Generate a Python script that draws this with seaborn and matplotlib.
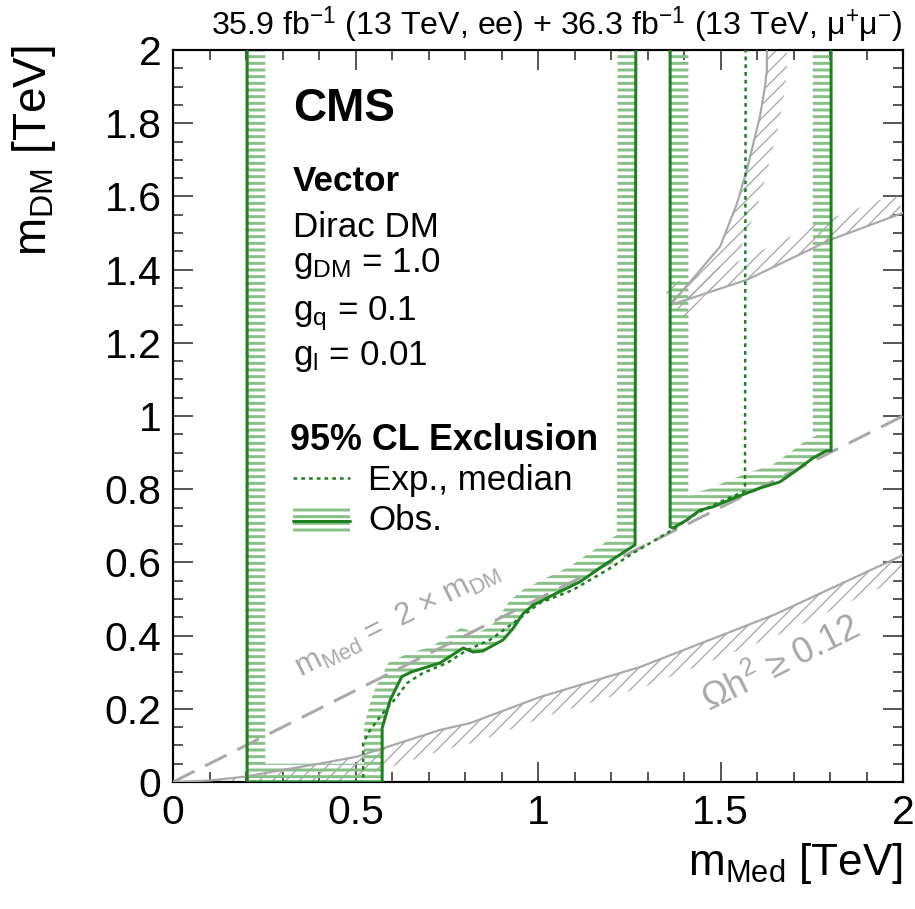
import numpy as np
import matplotlib
matplotlib.use("Agg")
import matplotlib.pyplot as plt
from matplotlib.ticker import MultipleLocator
import seaborn as sns

# ---------------- data (TeV) ----------------
obs1_x = [0.203, 0.203, 0.573, 0.573, 0.595, 0.627, 0.654, 0.731, 0.795, 0.822, 0.849,
          0.904, 0.932, 0.959, 0.986, 1.041, 1.115, 1.189, 1.266, 1.268]
obs1_y = [2.0, 0.0, 0.0, 0.147, 0.224, 0.288, 0.301, 0.325, 0.366, 0.355, 0.358,
          0.388, 0.42, 0.46, 0.483, 0.511, 0.547, 0.598, 0.648, 2.0]

obs2_x = [1.362, 1.362, 1.37, 1.408, 1.444, 1.48, 1.545, 1.608, 1.663, 1.709, 1.753,
          1.79, 1.803, 1.803]
obs2_y = [2.0, 0.697, 0.694, 0.716, 0.743, 0.752, 0.779, 0.803, 0.82, 0.852, 0.885,
          0.905, 0.905, 2.0]

exp_x = [0.203, 0.203, 0.521, 0.521, 0.54, 0.575, 0.613, 0.641, 0.685, 0.75, 0.805,
         0.868, 0.932, 1.005, 1.096, 1.189, 1.26, 1.37, 1.436, 1.499, 1.567, 1.569]
exp_y = [2.0, 0.0, 0.0, 0.107, 0.142, 0.188, 0.232, 0.27, 0.298, 0.325, 0.36,
         0.388, 0.434, 0.489, 0.525, 0.579, 0.625, 0.69, 0.735, 0.765, 0.795, 2.0]

relic_low_x = [0.0, 0.1, 0.2, 0.3, 0.4, 0.503, 0.6, 0.731, 0.814, 1.005, 1.279, 1.645, 2.0]
relic_low_y = [0.0, 0.004, 0.015, 0.033, 0.05, 0.069, 0.1, 0.142, 0.161, 0.232, 0.314, 0.456, 0.62]

relic_up_x = [1.362, 1.42, 1.499, 1.545, 1.572, 1.608, 1.622, 1.627, 1.627]
relic_up_y = [1.303, 1.37, 1.463, 1.58, 1.672, 1.818, 1.9, 1.945, 2.05]

relic_right_x = [1.362, 1.572, 1.80, 2.0]
relic_right_y = [1.303, 1.372, 1.481, 1.555]

diag_x = [0.0, 2.0]
diag_y = [0.0, 1.0]

xticks = [0, 0.5, 1, 1.5, 2]
xtick_labels = ["0", "0.5", "1", "1.5", "2"]
yticks = [0, 0.2, 0.4, 0.6, 0.8, 1.0, 1.2, 1.4, 1.6, 1.8, 2.0]
ytick_labels = ["0", "0.2", "0.4", "0.6", "0.8", "1", "1.2", "1.4", "1.6", "1.8", "2"]

# ---------------- style ----------------
sns.set_theme(style="ticks")
plt.rcParams["font.family"] = ["Liberation Sans", "DejaVu Sans"]
plt.rcParams["mathtext.fontset"] = "custom"
plt.rcParams["mathtext.rm"] = "Liberation Sans"
plt.rcParams["mathtext.it"] = "Liberation Sans:italic"
plt.rcParams["mathtext.bf"] = "Liberation Sans:bold"
plt.rcParams["text.color"] = "black"
plt.rcParams["xtick.color"] = "black"
plt.rcParams["ytick.color"] = "black"
plt.rcParams["xtick.labelcolor"] = "black"
plt.rcParams["ytick.labelcolor"] = "black"
plt.rcParams["hatch.linewidth"] = 1.8

DARK = "#1f801f"
LIGHT = "#86c086"
GREY = "#a8a8a8"

DPI = 120
fig = plt.figure(figsize=(915 / DPI, 909 / DPI), dpi=DPI)
ax = fig.add_axes([173 / 915, 1 - 782 / 909, 730 / 915, 732 / 909])
ax.set_xlim(0, 2)
ax.set_ylim(0, 2)


def band(xs, ys, w, side):
    p = np.column_stack([xs, ys]).astype(float)
    n = len(p)
    seg = np.diff(p, axis=0)
    seg /= np.linalg.norm(seg, axis=1)[:, None]
    nrm = side * np.column_stack([-seg[:, 1], seg[:, 0]])
    off = np.zeros_like(p)
    for i in range(n):
        if i == 0:
            v = nrm[0]; s = 1.0
        elif i == n - 1:
            v = nrm[-1]; s = 1.0
        else:
            v = nrm[i - 1] + nrm[i]
            v /= np.linalg.norm(v)
            s = min(1.0 / max(np.dot(v, nrm[i]), 1e-3), 2.5)
        off[i] = p[i] + v * w * s
    return np.vstack([p, off[::-1]])


def hatch_poly(poly, color, hatch, hlw):
    patch = ax.fill(poly[:, 0], poly[:, 1], fill=False, edgecolor=color,
                    linewidth=0, hatch=hatch, zorder=2)[0]
    try:
        patch.set_hatch_linewidth(hlw)
    except Exception:
        pass
    return patch


# grey relic density regions
plt.rcParams["hatch.linewidth"] = 0.8
hatch_poly(band(relic_low_x, relic_low_y, 0.055, -1), GREY, "///", 0.8)
hatch_poly(band(relic_up_x, relic_up_y, 0.055, -1), GREY, "///", 0.8)
hatch_poly(band(relic_right_x, relic_right_y, 0.055, 1), GREY, "///", 0.8)
for xs, ys in [(relic_low_x, relic_low_y), (relic_up_x, relic_up_y),
               (relic_right_x, relic_right_y)]:
    sns.lineplot(x=xs, y=ys, sort=False, estimator=None, color=GREY, lw=1.3,
                 ax=ax, legend=False, zorder=3)

# diagonal
sns.lineplot(x=diag_x, y=diag_y, sort=False, estimator=None, color=GREY, lw=1.8,
             dashes=False, ax=ax, legend=False, zorder=3).lines[-1].set_dashes((8, 4))

# observed hatched bands
plt.rcParams["hatch.linewidth"] = 1.8
hatch_poly(band(obs1_x, obs1_y, 0.05, 1), LIGHT, "---", 1.8)
hatch_poly(band(obs2_x, obs2_y, 0.05, 1), LIGHT, "---", 1.8)

# expected
sns.lineplot(x=exp_x, y=exp_y, sort=False, estimator=None, color=DARK, lw=1.5,
             ax=ax, legend=False, zorder=4).lines[-1].set_linestyle((0, (1.5, 1.6)))
# observed
for xs, ys in [(obs1_x, obs1_y), (obs2_x, obs2_y)]:
    sns.lineplot(x=xs, y=ys, sort=False, estimator=None, color=DARK, lw=1.8,
                 ax=ax, legend=False, zorder=5)

# ---------------- axes ----------------
ax.set_xticks(xticks, xtick_labels)
ax.set_yticks(yticks, ytick_labels)
ax.xaxis.set_minor_locator(MultipleLocator(0.1))
ax.yaxis.set_minor_locator(MultipleLocator(0.05))
ax.tick_params(which="both", direction="in", top=True, right=True, color="#222222",
               width=0.9)
ax.tick_params(which="major", length=12, labelsize=24.5, pad=7, labelcolor="black")
ax.tick_params(which="minor", length=6)
for s in ax.spines.values():
    s.set_linewidth(1.3)
    s.set_color("black")
ax.set_xlabel("")
ax.set_ylabel("")

ax.text(1.0, -0.127, r"m$_{\mathrm{Med}}$ [TeV]", transform=ax.transAxes,
        ha="right", va="baseline", fontsize=26.5)
ax.text(-0.19, 1.007, r"m$_{\mathrm{DM}}$ [TeV]", transform=ax.transAxes,
        ha="center", va="top", rotation=90, fontsize=27.5)
ax.text(1.0, 1.02, r"35.9 fb$^{-1}$ (13 TeV, ee) + 36.3 fb$^{-1}$ (13 TeV, μ$^{+}$μ$^{-}$)",
        transform=ax.transAxes, ha="right", va="baseline", fontsize=19.3)

# ---------------- text block ----------------
tx = 0.164
ax.text(tx, 0.903, "CMS", transform=ax.transAxes, fontsize=27.5, fontweight="bold",
        va="baseline")
ax.text(tx, 0.808, "Vector", transform=ax.transAxes, fontsize=21, fontweight="bold",
        va="baseline")
ax.text(tx, 0.744, "Dirac DM", transform=ax.transAxes, fontsize=21, va="baseline")
ax.text(tx, 0.697, r"g$_{\mathrm{DM}}$ = 1.0", transform=ax.transAxes, fontsize=21,
        va="baseline")
ax.text(tx, 0.631, r"g$_{\mathrm{q}}$ = 0.1", transform=ax.transAxes, fontsize=21,
        va="baseline")
ax.text(tx, 0.570, r"g$_{\mathrm{l}}$ = 0.01", transform=ax.transAxes, fontsize=21,
        va="baseline")
ax.text(0.16, 0.4536, "95% CL Exclusion", transform=ax.transAxes, fontsize=21.5,
        fontweight="bold", va="baseline")
ax.text(0.267, 0.399, "Exp., median", transform=ax.transAxes, fontsize=21,
        va="baseline")
ax.text(0.267, 0.344, "Obs.", transform=ax.transAxes, fontsize=21, va="baseline")

# legend symbols
ax.plot([0.164, 0.242], [0.415, 0.415], transform=ax.transAxes, color=DARK, lw=1.5,
        ls=(0, (1.5, 1.6)))
leg = plt.Rectangle((0.164, 0.337), 0.078, 0.041, transform=ax.transAxes, fill=False,
                    edgecolor=LIGHT, lw=0, hatch="---")
ax.add_patch(leg)
ax.plot([0.164, 0.242], [0.357, 0.357], transform=ax.transAxes, color=DARK, lw=1.8)

# line annotations
ax.text(0.35, 0.285, r"m$_{\mathrm{Med}}$ =  2 × m$_{\mathrm{DM}}$", color=GREY,
        fontsize=18.5, rotation=26.6, rotation_mode="anchor", ha="left", va="baseline")
ax.text(1.47, 0.19, r"Ωh$^{2}$ ≥ 0.12", color=GREY, fontsize=21.5, rotation=26.6,
        rotation_mode="anchor", ha="left", va="baseline")

fig.savefig("out.png", dpi=DPI)
